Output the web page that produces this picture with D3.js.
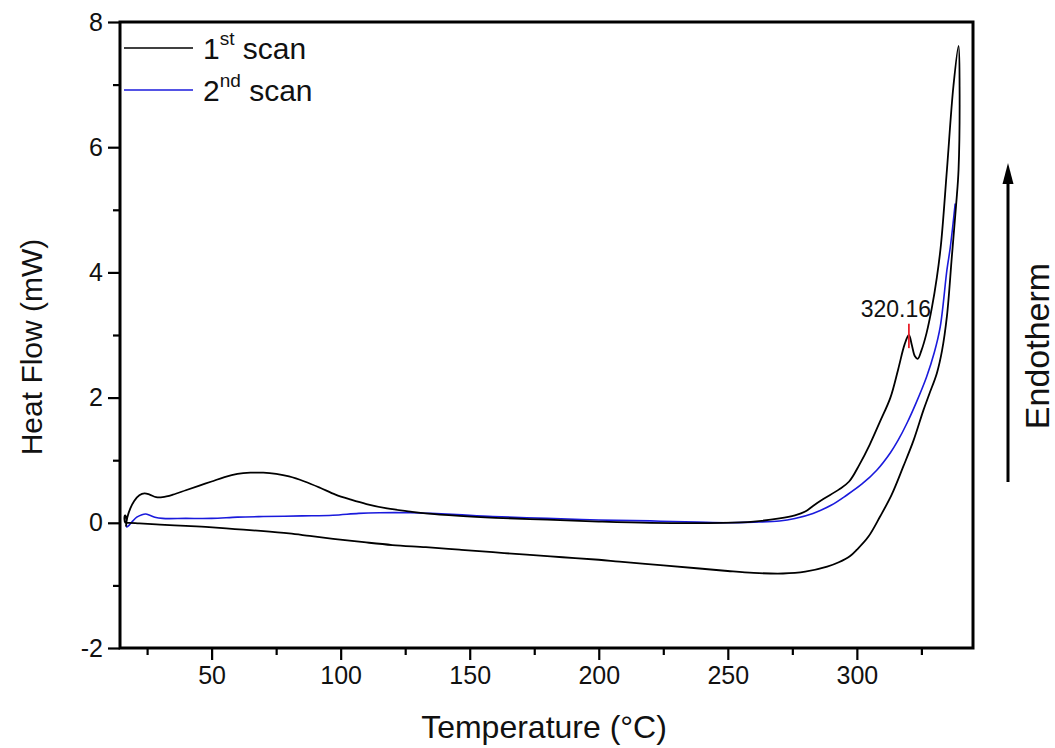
<!DOCTYPE html>
<html>
<head>
<meta charset="utf-8">
<script src="https://cdn.jsdelivr.net/npm/d3@7"></script>
<style>
  html, body { margin: 0; padding: 0; background: #fff; }
  svg { display: block; font-family: Arial, "Liberation Sans", Helvetica, sans-serif; }
</style>
</head>
<body>
<svg id="chart" width="1055" height="748"></svg>
<script>
// ---- Data (Temperature °C, Heat Flow mW) ----
const scan1Heating = [
  [16.8,-0.06],[17.3,0.08],[18.5,0.23],[20,0.35],[22,0.44],[24,0.47],[26,0.45],[28.5,0.41],
  [31,0.41],[35,0.45],[40,0.52],[45,0.59],[50,0.66],[55,0.73],[60,0.78],[65,0.80],[70,0.80],
  [75,0.78],[80,0.74],[86,0.66],[92,0.56],[98,0.45],[104,0.37],[110,0.30],[118,0.23],
  [127,0.18],[133,0.15],[146,0.11],[160,0.08],[180,0.05],[200,0.02],[220,0.0],[248,0.0],
  [260,0.02],[270,0.07],[276,0.12],[280,0.18],[283,0.27],[287,0.38],[293,0.53],[297,0.66],
  [301,0.93],[305,1.25],[309,1.62],[313,2.0],[316,2.45],[318.5,2.85],[320.16,3.0],
  [321.3,2.84],[322.5,2.66],[323.6,2.62],[325,2.75],[327,3.03],[329,3.42],[331,3.92],
  [332.6,4.45],[334.9,5.64],[337.4,6.97],[339.4,7.62]
];
const scan1Cooling = [
  [339.4,7.62],[339.8,6.97],[339.4,5.64],[338.5,5.10],[336.8,4.25],[334.9,3.30],[333,2.75],
  [331,2.39],[328,2.05],[325.8,1.80],[322,1.32],[318,0.90],[313.5,0.45],[309,0.10],
  [304.5,-0.22],[300,-0.43],[297.4,-0.53],[293,-0.63],[288.5,-0.70],[280,-0.78],[271.4,-0.81],
  [260,-0.80],[250,-0.77],[239,-0.73],[225,-0.68],[208,-0.62],[200,-0.59],[186,-0.55],
  [172,-0.51],[159,-0.47],[146,-0.43],[133,-0.39],[120,-0.355],[109,-0.31],[98,-0.26],
  [88,-0.21],[80,-0.17],[69,-0.13],[59,-0.10],[49,-0.07],[40,-0.05],[30,-0.03],[22,-0.01],
  [18,0.0],[16.6,0.0],[16.2,0.06],[16.5,0.12],[17.0,0.06],[16.8,-0.06]
];
const scan2 = [
  [16.9,-0.07],[18,-0.04],[19.5,0.03],[21,0.09],[23,0.13],[24.5,0.14],[26,0.12],[28,0.09],
  [31,0.07],[40,0.07],[50,0.07],[60,0.09],[70,0.10],[85,0.11],[97,0.12],[107,0.15],
  [115,0.16],[127,0.16],[135,0.15],[145,0.13],[159,0.10],[180,0.07],[200,0.045],[220,0.03],
  [238,0.01],[250,0.0],[260,0.01],[270,0.03],[276,0.07],[283,0.15],[290,0.28],[296,0.44],
  [302,0.62],[307.7,0.84],[313,1.12],[316,1.32],[319.4,1.59],[323,1.92],[327,2.33],
  [330,2.72],[332.3,3.13],[334.9,4.04],[336.2,4.40],[338.1,5.10]
];
const peakT = 320.16;
const peakLabel = "320.16";
const xMajorTicks = [50, 100, 150, 200, 250, 300];
const xMinorTicks = [25, 75, 125, 175, 225, 275, 325];
const yMajorTicks = [-2, 0, 2, 4, 6, 8];
const yMinorTicks = [-1, 1, 3, 5, 7];
const xDomain = [14.5, 345];
const yDomain = [-2, 8];
const xTitle = "Temperature (\u00B0C)";
const yTitle = "Heat Flow (mW)";
const sideLabel = "Endotherm";

// ---- Layout ----
const svg = d3.select("#chart");
const L = 120, R = 973, T = 22, B = 648;
const x = d3.scaleLinear().domain(xDomain).range([L, R]);
const y = d3.scaleLinear().domain(yDomain).range([B, T]);

svg.append("defs").append("clipPath").attr("id", "clip")
  .append("rect").attr("x", L).attr("y", T).attr("width", R - L).attr("height", B - T);

const line = d3.line().x(d => x(d[0])).y(d => y(d[1])).curve(d3.curveCatmullRom.alpha(0.5));

const plot = svg.append("g").attr("clip-path", "url(#clip)");
plot.append("path").datum(scan2).attr("d", line)
  .attr("fill", "none").attr("stroke", "#1a1adc").attr("stroke-width", 1.6);
plot.append("path").datum(scan1Heating.concat(scan1Cooling.slice(1))).attr("d", line)
  .attr("fill", "none").attr("stroke", "#000").attr("stroke-width", 1.8)
  .attr("stroke-linejoin", "round");

// Peak annotation
svg.append("line").attr("x1", x(peakT)).attr("x2", x(peakT))
  .attr("y1", y(3.18)).attr("y2", y(2.79))
  .attr("stroke", "#e8202a").attr("stroke-width", 1.8);
svg.append("text").attr("x", x(peakT) - 13).attr("y", y(3.28))
  .attr("text-anchor", "middle").attr("font-size", 23).attr("fill", "#111").text(peakLabel);

// Axes
const xAxis = d3.axisBottom(x).tickValues(xMajorTicks).tickSize(12).tickPadding(6).tickFormat(d3.format("d"));
svg.append("g").attr("transform", `translate(0,${B})`).call(xAxis);
const yAxis = d3.axisLeft(y).tickValues(yMajorTicks).tickSize(12).tickPadding(5).tickFormat(d => d);
svg.append("g").attr("transform", `translate(${L},0)`).call(yAxis);
svg.append("g").attr("transform", `translate(0,${B})`)
  .call(d3.axisBottom(x).tickValues(xMinorTicks).tickSize(7).tickFormat(""));
svg.append("g").attr("transform", `translate(${L},0)`)
  .call(d3.axisLeft(y).tickValues(yMinorTicks).tickSize(7).tickFormat(""));
svg.selectAll(".domain").remove();
svg.selectAll(".tick line").attr("stroke", "#000").attr("stroke-width", 2.2);
svg.selectAll(".tick text").attr("font-size", 25).attr("fill", "#111")
  .attr("font-family", "Arial, 'Liberation Sans', sans-serif");

// Frame
svg.append("rect").attr("x", L).attr("y", T).attr("width", R - L).attr("height", B - T)
  .attr("fill", "none").attr("stroke", "#000").attr("stroke-width", 3);

// Titles
svg.append("text").attr("x", 544).attr("y", 738).attr("text-anchor", "middle")
  .attr("font-size", 32).attr("fill", "#111").text(xTitle);
svg.append("text").attr("transform", `translate(42,${(T + B) / 2 + 12}) rotate(-90)`)
  .attr("text-anchor", "middle").attr("font-size", 30).attr("fill", "#111").text(yTitle);

// Endotherm arrow
svg.append("line").attr("x1", 1008).attr("x2", 1008).attr("y1", 482).attr("y2", 178)
  .attr("stroke", "#000").attr("stroke-width", 3);
svg.append("path").attr("d", "M1008,163 L1013.5,184 L1002.5,184 Z").attr("fill", "#000");
svg.append("text").attr("transform", `translate(1049,346) rotate(-90)`)
  .attr("text-anchor", "middle").attr("font-size", 34).attr("fill", "#111").text(sideLabel);

// Legend
const legend = [
  { color: "#000", num: "1", sup: "st" },
  { color: "#1a1adc", num: "2", sup: "nd" }
];
const lg = svg.append("g");
legend.forEach((d, i) => {
  const ly = 48 + i * 42;
  lg.append("line").attr("x1", 124).attr("x2", 193).attr("y1", ly).attr("y2", ly)
    .attr("stroke", d.color).attr("stroke-width", 1.6);
  const t = lg.append("text").attr("x", 203).attr("y", ly + 11).attr("font-size", 30).attr("fill", "#111");
  t.append("tspan").text(d.num);
  t.append("tspan").attr("font-size", 19).attr("dy", -14).text(d.sup);
  t.append("tspan").attr("dy", 14).text("\u00A0scan");
});
</script>
</body>
</html>
